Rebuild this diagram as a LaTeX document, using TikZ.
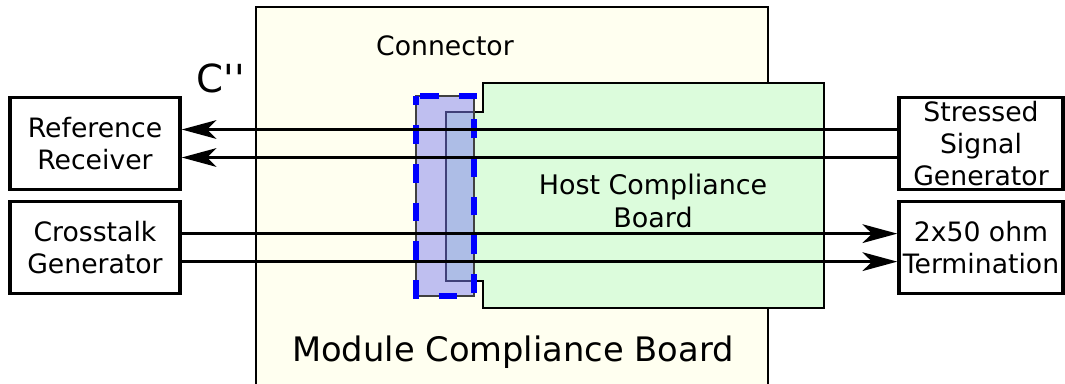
\documentclass[tikz,border=0pt]{standalone}
\usepackage{fontspec}
\setmainfont{DejaVu Sans}
\newfontfamily\plainsans{DejaVu Sans}
\usetikzlibrary{positioning,arrows.meta}
\definecolor{ink}{HTML}{000000}
\definecolor{ivory}{HTML}{FFFFF0}
\definecolor{mint}{HTML}{DCFCDC}
\definecolor{plug}{HTML}{8080F0}
\definecolor{plugdash}{HTML}{0000FF}
\definecolor{rim}{HTML}{404040}
\tikzset{
  sig/.style={-{Stealth[length=26pt,width=14pt,inset=7pt]}, line width=2.3pt, color=ink},
  inst/.style={draw=ink, line width=2.6pt, fill=white, align=center,
    font=\fontsize{20}{23.8}\selectfont, minimum height=69pt, inner sep=0pt},
  board/.style={draw=ink, line width=2.2pt, fill=#1},
  lbl/.style={font=\fontsize{#1}{1.2\dimexpr#1pt\relax}\selectfont, align=center, text=ink},
}

\begin{document}
\begin{tikzpicture}[x=0.75pt,y=-0.75pt]
  \useasboundingbox (0,0) rectangle (1065,383);
  \clip (0,0) rectangle (1065,383);
  % module board
  \draw[board=ivory] (256,7) rectangle (768,400);
  \node[lbl=25.3] (mcb) at (513,352) {Module Compliance Board};
  \node[lbl=29] (cpp) at (221,78) {\plainsans C''};
  \node[lbl=20] (conn) at (445,46) {Connector};
  % host board with its tab in the connector
  \draw[board=mint] (483,112) -- (483,83) -- (824,83) -- (824,308) -- (483,308)
    -- (483,281) -- (446,281) -- (446,112) -- cycle;
  \node[lbl=20.2] (hcb) at (653,201) {Host Compliance\\Board};
  % connector, see-through
  \fill[plug,opacity=0.5] (416,96) rectangle (474,296);
  \draw[rim,line width=1.8pt] (416,96) rectangle (474,296);
  \draw[plugdash,line width=4pt,dash pattern=on 14pt off 15pt,dash phase=7pt]
    (416,96) rectangle (474,296);
  % instruments
  \node[inst,minimum width=127.5pt] (refrx) at (95,143.5) {Reference\\Receiver};
  \node[inst,minimum width=127.5pt,below=6.5pt of refrx] (xtalk) {Crosstalk\\Generator};
  \node[inst,minimum width=123pt] (ssg) at (981,143.5) {Stressed\\Signal\\Generator};
  \node[inst,minimum width=123pt,below=6.5pt of ssg] (term) {2x50 ohm\\Termination};
  % signal paths
  \draw[sig] ([yshift=10.5pt]ssg.west) -- ([yshift=10.5pt]refrx.east);
  \draw[sig] ([yshift=-10.5pt]ssg.west) -- ([yshift=-10.5pt]refrx.east);
  \draw[sig] ([yshift=10.5pt]xtalk.east) -- ([yshift=10.5pt]term.west);
  \draw[sig] ([yshift=-10.5pt]xtalk.east) -- ([yshift=-10.5pt]term.west);
\end{tikzpicture}
\end{document}
